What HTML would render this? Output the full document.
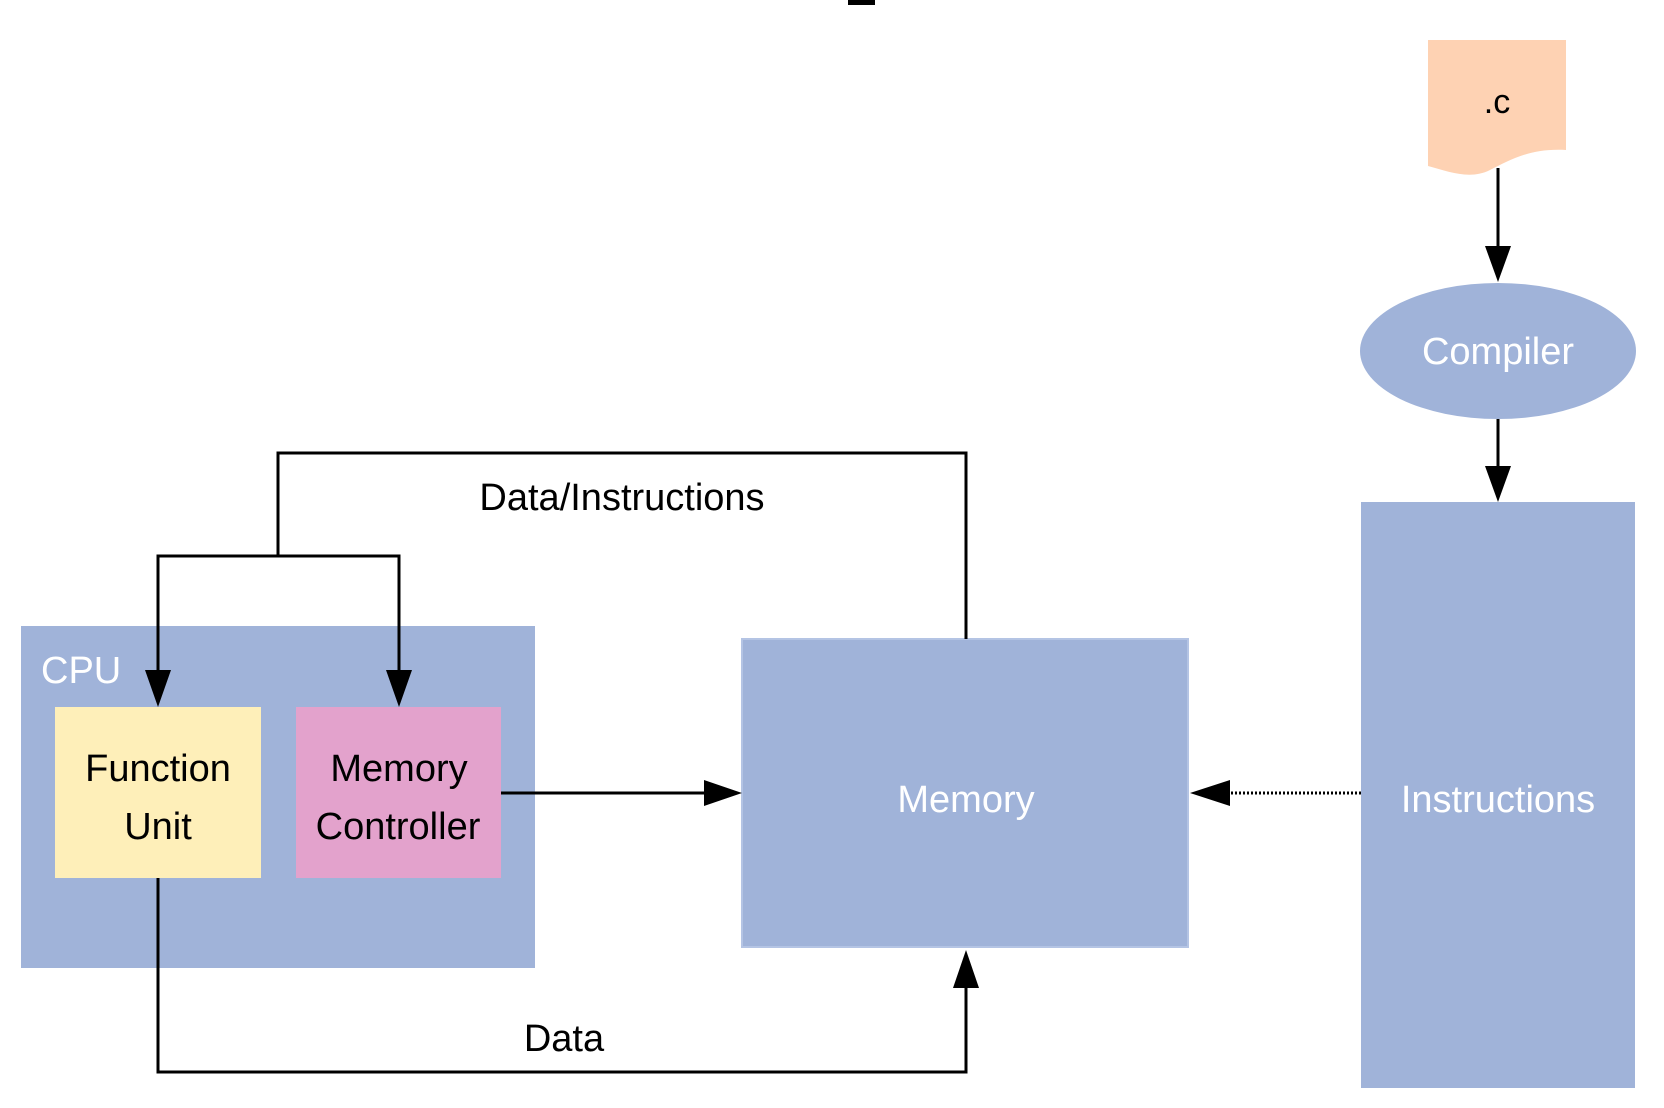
<!DOCTYPE html>
<html><head><meta charset="utf-8"><style>
html,body{margin:0;padding:0;background:#fff;}
svg{display:block;}
text{font-family:"Liberation Sans",sans-serif;}
</style></head><body>
<svg width="1664" height="1108" viewBox="0 0 1664 1108" xmlns="http://www.w3.org/2000/svg">
<rect x="848" y="0" width="27" height="5" fill="#000"/>
<path d="M1428 40 H1566 V150 C1530 148 1510 160 1490 170 C1470 180 1450 172 1428 166 Z" fill="#fed2b3"/>
<text x="1497" y="113" font-size="34" text-anchor="middle" fill="#000">.c</text>
<line x1="1498" y1="168" x2="1498" y2="250" stroke="#000" stroke-width="3"/>
<polygon points="1485,246 1511,246 1498,282" fill="#000"/>
<ellipse cx="1498" cy="351" rx="138" ry="68" fill="#a0b3d9"/>
<text x="1498" y="364" font-size="38" text-anchor="middle" fill="#fff">Compiler</text>
<line x1="1498" y1="419" x2="1498" y2="470" stroke="#000" stroke-width="3"/>
<polygon points="1485,466 1511,466 1498,502" fill="#000"/>
<rect x="1361" y="502" width="274" height="586" fill="#a0b3d9"/>
<text x="1498" y="812" font-size="38" text-anchor="middle" fill="#fff">Instructions</text>
<rect x="742" y="639" width="446" height="308" fill="#a0b3d9" stroke="#b4c4e4" stroke-width="2"/>
<text x="966" y="812" font-size="38" text-anchor="middle" fill="#fff">Memory</text>
<line x1="1361" y1="793" x2="1228" y2="793" stroke="#000" stroke-width="3" stroke-dasharray="2,2"/>
<polygon points="1230,780 1230,806 1190,793" fill="#000"/>
<rect x="21" y="626" width="514" height="342" fill="#a0b3d9"/>
<text x="41" y="683" font-size="38" fill="#fff">CPU</text>
<rect x="55" y="707" width="206" height="171" fill="#feefb9"/>
<text x="158" y="781" font-size="38" text-anchor="middle" fill="#000">Function</text>
<text x="158" y="839" font-size="38" text-anchor="middle" fill="#000">Unit</text>
<rect x="296" y="707" width="205" height="171" fill="#e3a2cc"/>
<text x="399" y="781" font-size="38" text-anchor="middle" fill="#000">Memory</text>
<text x="398" y="839" font-size="38" text-anchor="middle" fill="#000">Controller</text>
<line x1="501" y1="793" x2="706" y2="793" stroke="#000" stroke-width="3"/>
<polygon points="704,780 704,806 742,793" fill="#000"/>
<polyline points="966,639 966,453 278,453 278,556" fill="none" stroke="#000" stroke-width="3"/>
<polyline points="158,672 158,556 399,556 399,672" fill="none" stroke="#000" stroke-width="3"/>
<polygon points="145,670 171,670 158,707" fill="#000"/>
<polygon points="386,670 412,670 399,707" fill="#000"/>
<text x="622" y="510" font-size="38" text-anchor="middle" fill="#000">Data/Instructions</text>
<polyline points="158,878 158,1072 966,1072 966,985" fill="none" stroke="#000" stroke-width="3"/>
<polygon points="953,988 979,988 966,950" fill="#000"/>
<text x="564" y="1051" font-size="38" text-anchor="middle" fill="#000">Data</text>
</svg>
</body></html>
